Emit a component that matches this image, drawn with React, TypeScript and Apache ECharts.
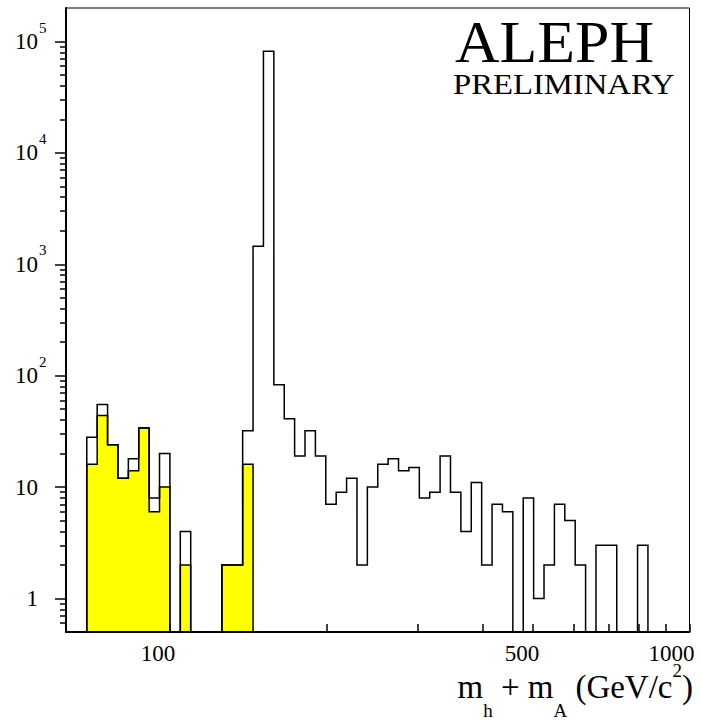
import React, { useEffect, useRef } from "react";
import * as echarts from "echarts";

// Histogram binning: 60 bins equally spaced in log10(mass), from 10^1.8 to 10^3
const LOG_MIN = 1.8;
const LOG_MAX = 3.0;
const BIN_WIDTH_LOG = 0.02;

// All events (open histogram)
const totalCounts = [
  0, 0, 28, 55, 24, 12, 18, 34, 8, 20,
  0, 4, 0, 0, 0, 2, 2, 32, 1450, 82000,
  83, 41, 19, 32, 19, 7, 9, 12, 2, 10,
  16, 18, 14, 15, 8, 9, 19, 9, 4, 11,
  2, 7, 6, 0, 8, 1, 2, 7, 5, 2,
  0, 3, 3, 0, 0, 3, 0, 0, 0, 0,
];

// Selected events (yellow histogram)
const selectedCounts = [
  0, 0, 16, 44, 24, 12, 14, 34, 6, 10,
  0, 2, 0, 0, 0, 2, 2, 16, 0, 0,
  0, 0, 0, 0, 0, 0, 0, 0, 0, 0,
  0, 0, 0, 0, 0, 0, 0, 0, 0, 0,
  0, 0, 0, 0, 0, 0, 0, 0, 0, 0,
  0, 0, 0, 0, 0, 0, 0, 0, 0, 0,
];

const Y_MIN = 0.5;
const Y_MAX = 200000;
const yMajorTicks = [1, 10, 100, 1000, 10000, 100000];
const yExponentLabels = [100, 1000, 10000, 100000];
const yMinorTicks = [
  0.6, 0.7, 0.8, 0.9,
  2, 3, 4, 5, 6, 7, 8, 9,
  20, 30, 40, 50, 60, 70, 80, 90,
  200, 300, 400, 500, 600, 700, 800, 900,
  2000, 3000, 4000, 5000, 6000, 7000, 8000, 9000,
  20000, 30000, 40000, 50000, 60000, 70000, 80000, 90000,
];
const xTickValues = [100, 200, 300, 400, 500, 600, 700, 800, 900, 1000];
const xLabelValues = [100, 500, 1000];

// x-axis title pieces: [text, kind]
const xTitleParts: [string, string][] = [
  ["m", "main"],
  ["h", "sub"],
  [" ", "gap"],
  ["+", "main"],
  [" ", "gap"],
  ["m", "main"],
  ["A", "sub"],
  [" ", "gap"],
  ["(GeV/c", "main"],
  ["2", "sup"],
  [")", "main"],
];

const FONT = "'Liberation Serif', 'Times New Roman', Times, serif";

function toSteps(counts: number[]): [number, number][] {
  const pts: [number, number][] = counts.map((c, i) => [
    Math.pow(10, LOG_MIN + i * BIN_WIDTH_LOG),
    c > 0 ? c : Y_MIN,
  ]);
  const last = counts[counts.length - 1];
  pts.push([
    Math.pow(10, LOG_MIN + counts.length * BIN_WIDTH_LOG),
    last > 0 ? last : Y_MIN,
  ]);
  return pts;
}

function buildTitle(rightX: number, baseY: number): any[] {
  const ctx = document.createElement("canvas").getContext("2d") as CanvasRenderingContext2D;
  const MAIN = 33;
  const SMALL = 19;
  const sizeOf = (k: string) => (k === "sub" || k === "sup" ? SMALL : MAIN);
  const widths = xTitleParts.map(([t, k]) => {
    ctx.font = sizeOf(k) + "px " + FONT;
    return ctx.measureText(t).width;
  });
  const total = widths.reduce((a, b) => a + b, 0);
  let x = rightX - total;
  const out: any[] = [];
  xTitleParts.forEach(([t, k], i) => {
    if (k !== "gap") {
      const fs = sizeOf(k);
      const baseline = k === "sub" ? baseY + 19 : k === "sup" ? baseY - 21 : baseY;
      out.push({
        type: "text",
        x,
        y: baseline - 0.34 * fs,
        z: 20,
        silent: true,
        style: {
          text: t,
          fontFamily: FONT,
          fontSize: fs,
          fill: "#000",
          align: "left",
          verticalAlign: "middle",
        },
      });
    }
    x += widths[i];
  });
  return out;
}

export default function App() {
  const ref = useRef<HTMLDivElement>(null);

  useEffect(() => {
    document.body.style.margin = "0";
    if (!ref.current) return;
    const chart = echarts.init(ref.current, null, { renderer: "svg" });

    const option: any = {
      animation: false,
      backgroundColor: "#ffffff",
      grid: {
        left: 66,
        right: 11.5,
        top: 8,
        bottom: 92,
        show: true,
        borderColor: "#000",
        borderWidth: 1,
        backgroundColor: "transparent",
        containLabel: false,
        outerBoundsMode: "none",
      },
      xAxis: {
        type: "log",
        logBase: 10,
        min: Math.pow(10, LOG_MIN),
        max: Math.pow(10, LOG_MAX),
        z: 10,
        axisLine: { show: true, onZero: false, lineStyle: { color: "#000", width: 2 } },
        axisTick: {
          show: true,
          inside: true,
          length: 8,
          customValues: xTickValues,
          lineStyle: { color: "#000", width: 1.5 },
        },
        minorTick: { show: false },
        splitLine: { show: false },
        axisLabel: {
          show: true,
          customValues: xLabelValues,
          margin: 13,
          lineHeight: 17,
          color: "#000",
          fontFamily: FONT,
          fontSize: 23,
          formatter: (v: number) => {
            const r = Math.round(v);
            if (r === 1000) return "{k|1000}";
            if (r === 500) return "{f|500}";
            return "{h|" + r + "}";
          },
          rich: {
            h: { fontFamily: FONT, fontSize: 23, lineHeight: 17, color: "#000", padding: [0, 24, 0, 0] },
            f: { fontFamily: FONT, fontSize: 23, lineHeight: 17, color: "#000", padding: [0, 22, 0, 0] },
            k: { fontFamily: FONT, fontSize: 23, lineHeight: 17, color: "#000", padding: [0, 36, 0, 0] },
          },
        },
      },
      yAxis: [
        {
          type: "log",
          logBase: 10,
          min: Y_MIN,
          max: Y_MAX,
          z: 10,
          axisLine: { show: true, onZero: false, lineStyle: { color: "#000", width: 2 } },
          axisTick: {
            show: true,
            inside: false,
            length: 11,
            customValues: yMajorTicks,
            lineStyle: { color: "#000", width: 1.5 },
          },
          minorTick: { show: false },
          splitLine: { show: false },
          axisLabel: {
            show: true,
            customValues: yMajorTicks,
            margin: 28,
            color: "#000",
            fontFamily: FONT,
            fontSize: 23,
            formatter: (v: number) => {
              const e = Math.round(Math.log10(v));
              return e === 0 ? "1" : "10";
            },
          },
        },
        {
          // minor ticks
          type: "log",
          logBase: 10,
          min: Y_MIN,
          max: Y_MAX,
          position: "left",
          offset: 0,
          z: 10,
          axisLine: { show: false },
          axisTick: {
            show: true,
            inside: false,
            length: 6,
            customValues: yMinorTicks,
            lineStyle: { color: "#000", width: 1.5 },
          },
          minorTick: { show: false },
          splitLine: { show: false },
          axisLabel: { show: false },
        },
        {
          // exponents of the decade labels
          type: "log",
          logBase: 10,
          min: Y_MIN,
          max: Y_MAX,
          position: "left",
          offset: 0,
          z: 10,
          axisLine: { show: false },
          axisTick: { show: false },
          minorTick: { show: false },
          splitLine: { show: false },
          axisLabel: {
            show: true,
            customValues: yExponentLabels,
            margin: 27,
            align: "left",
            verticalAlign: "bottom",
            lineHeight: 28,
            color: "#000",
            fontFamily: FONT,
            fontSize: 15,
            formatter: (v: number) => String(Math.round(Math.log10(v))),
          },
        },
      ],
      graphic: [
        {
          type: "text",
          x: 455,
          y: 42,
          scaleX: 1.03,
          z: 20,
          style: {
            text: "ALEPH",
            fontFamily: FONT,
            fontSize: 60,
            fill: "#000",
            align: "left",
            verticalAlign: "middle",
          },
        },
        {
          type: "text",
          x: 453,
          y: 84,
          scaleX: 1.09,
          z: 20,
          style: {
            text: "PRELIMINARY",
            fontFamily: FONT,
            fontSize: 30,
            fill: "#000",
            align: "left",
            verticalAlign: "middle",
          },
        },
        ...buildTitle(693, 698),
      ],
      series: [
        {
          name: "selected",
          type: "line",
          step: "end",
          data: toSteps(selectedCounts),
          symbol: "none",
          showSymbol: false,
          silent: true,
          z: 2,
          lineStyle: { color: "#000", width: 1.5, join: "miter" },
          areaStyle: { color: "#ffff00", opacity: 1, origin: "start" },
        },
        {
          name: "all",
          type: "line",
          step: "end",
          data: toSteps(totalCounts),
          symbol: "none",
          showSymbol: false,
          silent: true,
          z: 3,
          lineStyle: { color: "#000", width: 1.5, join: "miter" },
        },
      ],
    };

    chart.setOption(option);
    return () => chart.dispose();
  }, []);

  return <div ref={ref} style={{ width: 701, height: 724 }} />;
}
